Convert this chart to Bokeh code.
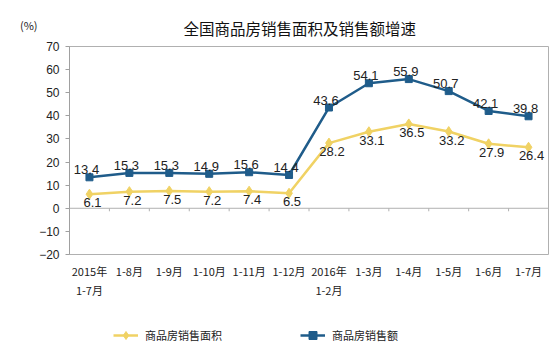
from bokeh.plotting import figure
from bokeh.layouts import column
from bokeh.models import Range1d, FixedTicker, Span, Label, Legend, LegendItem, ColumnDataSource
from bokeh.core.properties import value
from bokeh.embed import file_html
from bokeh.resources import INLINE

categories = ["2015年\n1-7月", "1-8月", "1-9月", "1-10月", "1-11月", "1-12月",
              "2016年\n1-2月", "1-3月", "1-4月", "1-5月", "1-6月", "1-7月"]
area_growth = [6.1, 7.2, 7.5, 7.2, 7.4, 6.5, 28.2, 33.1, 36.5, 33.2, 27.9, 26.4]
sales_growth = [13.4, 15.3, 15.3, 14.9, 15.6, 14.4, 43.6, 54.1, 55.9, 50.7, 42.1, 39.8]
y_ticks = [-20, -10, 0, 10, 20, 30, 40, 50, 60, 70]
series_names = ["商品房销售面积", "商品房销售额"]
title_text = "全国商品房销售面积及销售额增速"
unit_text = "(%)"

xs = list(range(1, len(categories) + 1))
FONT = "Noto Sans CJK SC"
BLUE = "#1f5c8a"
YELLOW = "#f0d264"


def strip(height, top_border=0, y_axis=None):
    f = figure(width=554, height=height, output_backend="svg", toolbar_location=None,
               x_range=Range1d(-100, -99), y_range=Range1d(-100, -99),
               x_axis_location=None, y_axis_location=y_axis,
               min_border_left=0, min_border_right=0, min_border_top=top_border, min_border_bottom=0)
    f.grid.visible = False
    f.outline_line_color = None
    f.background_fill_color = "white"
    f.border_fill_color = "white"
    return f


# title strip: the unit text is the label of a bare left axis
top = strip(38, top_border=10, y_axis="left")
top.yaxis.ticker = FixedTicker(ticks=[])
top.yaxis.axis_line_color = None
top.yaxis.major_tick_line_color = None
top.yaxis.minor_tick_line_color = None
top.yaxis.axis_label = unit_text
top.yaxis.axis_label_orientation = "horizontal"
top.yaxis.axis_label_text_font = FONT
top.yaxis.axis_label_text_font_size = "11px"
top.yaxis.axis_label_text_font_style = "normal"
top.yaxis.axis_label_text_color = "#222222"
top.yaxis.axis_label_standoff = 32
top.add_layout(Label(x=114, y=11, x_units="screen", y_units="screen", text=title_text,
                     text_font=FONT, text_font_size="15.5px", text_color="#111111",
                     text_align="left", text_baseline="middle"))

main = figure(width=554, height=262, output_backend="svg", toolbar_location=None,
              x_range=Range1d(0.5, len(categories) + 0.5), y_range=Range1d(-20, 70),
              min_border_left=69, min_border_right=6, min_border_top=8, min_border_bottom=45)
main.background_fill_color = "white"
main.border_fill_color = "white"
main.outline_line_color = "#b0b0b0"
main.outline_line_width = 1
main.xgrid.visible = False
main.ygrid.visible = False

# y axis
main.yaxis.ticker = FixedTicker(ticks=y_ticks)
main.yaxis.axis_line_color = "#a0a0a0"
main.yaxis.major_tick_line_color = "#a0a0a0"
main.yaxis.major_tick_out = 4
main.yaxis.major_tick_in = 0
main.yaxis.minor_tick_line_color = None
main.yaxis.major_label_text_font = "Liberation Sans"
main.yaxis.major_label_text_font_size = "12px"
main.yaxis.major_label_text_color = "#222222"
main.yaxis.major_label_standoff = 6

# x axis
main.xaxis.ticker = FixedTicker(ticks=xs)
main.xaxis.major_label_overrides = {x: c for x, c in zip(xs, categories)}
main.xaxis.axis_line_color = None
main.xaxis.major_tick_line_color = None
main.xaxis.minor_tick_line_color = None
main.xaxis.major_label_text_font = FONT
main.xaxis.major_label_text_font_size = "11px"
main.xaxis.major_label_text_color = "#222222"
main.xaxis.major_label_standoff = 2

# zero line with small ticks between categories
main.add_layout(Span(location=0, dimension="width", line_color="#b0b0b0", line_width=1))
sep = [x + 0.5 for x in xs[:-1]]
main.segment(x0=sep, y0=[0] * len(sep), x1=sep, y1=[-1.3] * len(sep), line_color="#b0b0b0", line_width=1)

src = ColumnDataSource(dict(x=xs, a=area_growth, s=sales_growth,
                            at=[f"{v:.1f}" for v in area_growth],
                            st=[f"{v:.1f}" for v in sales_growth]))

main.line("x", "a", source=src, line_color=YELLOW, line_width=2.5)
main.scatter("x", "a", source=src, marker="diamond", size=10, fill_color=YELLOW, line_color=YELLOW)
main.line("x", "s", source=src, line_color=BLUE, line_width=2.5)
main.scatter("x", "s", source=src, marker="square", size=7, fill_color=BLUE, line_color=BLUE)

main.text("x", "s", text="st", source=src, text_align="center", text_baseline="bottom",
          x_offset=-3, y_offset=-3, text_font=value("Liberation Sans"), text_font_size="13px",
          text_color="#222222")
main.text("x", "a", text="at", source=src, text_align="center", text_baseline="top",
          x_offset=3, y_offset=4, text_font=value("Liberation Sans"), text_font_size="13px",
          text_color="#222222")

# legend strip below the chart (its ranges keep the series' own lines out of view)
lf = strip(53)
k1 = lf.line("x", "a", source=src, line_color=YELLOW, line_width=2.5)
k1b = lf.scatter("x", "a", source=src, marker="diamond", size=10, fill_color=YELLOW, line_color=YELLOW)
k2 = lf.line("x", "s", source=src, line_color=BLUE, line_width=2.5)
k2b = lf.scatter("x", "s", source=src, marker="square", size=7, fill_color=BLUE, line_color=BLUE)

legend = Legend(items=[LegendItem(label=series_names[0], renderers=[k1, k1b]),
                       LegendItem(label=series_names[1], renderers=[k2, k2b])],
                orientation="horizontal", spacing=78, label_text_font=FONT,
                label_text_font_size="11px", label_text_color="#222222",
                border_line_color=None, background_fill_alpha=0, glyph_width=25,
                label_standoff=7, margin=0, padding=2, location=(44, 8))
lf.add_layout(legend)

p = column(top, main, lf, spacing=0)
open("out.html", "w").write(file_html(p, INLINE))
